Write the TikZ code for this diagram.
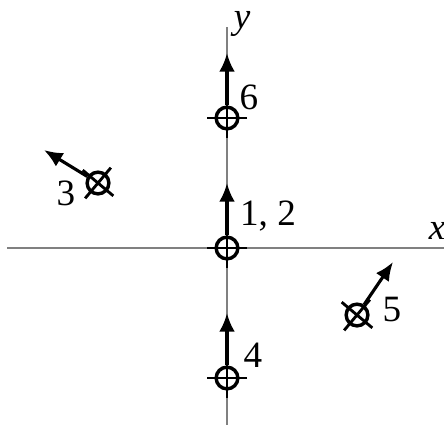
\documentclass[tikz,border=0pt]{standalone}
\usepackage{fontspec}
\setmainfont{Liberation Serif}
\usetikzlibrary{arrows.meta}
\tikzset{ax/.style={draw=black!50,line width=0.55pt}}
\tikzset{vec/.style={-{Latex[length=6.5pt,width=5.5pt]},line width=1.1pt}}
\tikzset{sight/.style={draw,circle,line width=1.2pt,minimum size=7.6pt,inner sep=0pt}}
\tikzset{lbl/.style={font=\fontsize{13}{13}\selectfont,inner sep=0pt}}
\newcommand{\hairs}[2]{%
  \draw[line width=1pt] (#1) ++(#2:7pt) -- ++(#2+180:14pt)
    (#1) ++(#2+90:7pt) -- ++(#2+270:14pt);}

\begin{document}
\begin{tikzpicture}[x=0.35pt,y=-0.35pt]
\useasboundingbox (0,0) rectangle (444,425);
% axes
\coordinate (xl) at (7,248);
\coordinate (xr) at (444,248);
\coordinate (yt) at (227,27);
\coordinate (yb) at (227,425);
\draw[ax] (xl) -- (xr);
\draw[ax] (yt) -- (yb);
\node[lbl] (xlab) at (437,231) {\textit{x}};
\node[lbl] (ylab) at (242,24) {\textit{y}};

% sources
\node[sight] (p12) at (227,248) {};
\node[sight] (p6) at (227,118) {};
\node[sight] (p4) at (227,378) {};
\node[sight] (p3) at (98,183) {};
\node[sight] (p5) at (357,315) {};
\hairs{p12}{0}
\hairs{p6}{0}
\hairs{p4}{0}
\hairs{p3}{50}
\hairs{p5}{50}

% directions
\coordinate (t12) at (227,183);
\coordinate (t6) at (227,53);
\coordinate (t4) at (227,313);
\coordinate (t3) at (44,150);
\coordinate (t5) at (393,262);
\draw[vec] (p12) -- (t12);
\draw[vec] (p6) -- (t6);
\draw[vec] (p4) -- (t4);
\draw[vec] (p3) -- (t3);
\draw[vec] (p5) -- (t5);

\node[lbl] (l12) at (268,216) {1, 2};
\node[lbl] (l6) at (249,97) {6};
\node[lbl] (l4) at (253,355) {4};
\node[lbl] (l3) at (66,193) {3};
\node[lbl] (l5) at (392,310) {5};
\end{tikzpicture}
\end{document}
